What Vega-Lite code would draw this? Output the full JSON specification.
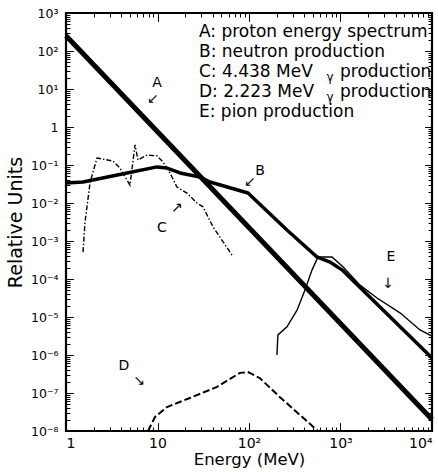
{
  "$schema": "https://vega.github.io/schema/vega-lite/v6.json",
  "width": 366,
  "height": 418,
  "autosize": {"type": "none"},
  "padding": {"left": 66, "top": 13, "right": 6, "bottom": 41},
  "background": "white",
  "config": {"view": {"stroke": "black", "strokeWidth": 2.2}, "font": "DejaVu Sans"},
  "data": {"values": [
      {"s": "A", "e": 1, "v": 251},
      {"s": "A", "e": 10000, "v": 2.0e-8},
      {"s": "B", "e": 1, "v": 0.0336},
      {"s": "B", "e": 1.535, "v": 0.0357},
      {"s": "B", "e": 4.65, "v": 0.0617},
      {"s": "B", "e": 9.89, "v": 0.0891},
      {"s": "B", "e": 12.7, "v": 0.0832},
      {"s": "B", "e": 17.6, "v": 0.0617},
      {"s": "B", "e": 29.1, "v": 0.0483},
      {"s": "B", "e": 37.5, "v": 0.0357},
      {"s": "B", "e": 97.5, "v": 0.0183},
      {"s": "B", "e": 260, "v": 0.00195},
      {"s": "B", "e": 553, "v": 0.00038},
      {"s": "B", "e": 767, "v": 0.00028},
      {"s": "B", "e": 1038, "v": 0.000174},
      {"s": "B", "e": 10000, "v": 8.3e-7},
      {"s": "C", "e": 1.535, "v": 0.00051},
      {"s": "C", "e": 1.61, "v": 0.00295},
      {"s": "C", "e": 1.83, "v": 0.0339},
      {"s": "C", "e": 2.18, "v": 0.153},
      {"s": "C", "e": 3.27, "v": 0.127},
      {"s": "C", "e": 3.89, "v": 0.0832},
      {"s": "C", "e": 5.0, "v": 0.0295},
      {"s": "C", "e": 5.68, "v": 0.339},
      {"s": "C", "e": 6.12, "v": 0.135},
      {"s": "C", "e": 7.67, "v": 0.182},
      {"s": "C", "e": 9.89, "v": 0.174},
      {"s": "C", "e": 11.5, "v": 0.12},
      {"s": "C", "e": 13.7, "v": 0.0617},
      {"s": "C", "e": 16.3, "v": 0.0263},
      {"s": "C", "e": 21.0, "v": 0.0182},
      {"s": "C", "e": 27.0, "v": 0.01},
      {"s": "C", "e": 31.4, "v": 0.00794},
      {"s": "C", "e": 40.5, "v": 0.00234},
      {"s": "C", "e": 65.2, "v": 0.000427},
      {"s": "D", "e": 7.87, "v": 1.0e-8},
      {"s": "D", "e": 9.4, "v": 2.34e-8},
      {"s": "D", "e": 12.7, "v": 4.27e-8},
      {"s": "D", "e": 22.6, "v": 7.41e-8},
      {"s": "D", "e": 44.7, "v": 1.45e-7},
      {"s": "D", "e": 79.8, "v": 3.39e-7},
      {"s": "D", "e": 97.5, "v": 3.55e-7},
      {"s": "D", "e": 132, "v": 2.45e-7},
      {"s": "D", "e": 218, "v": 7.76e-8},
      {"s": "D", "e": 361, "v": 2.63e-8},
      {"s": "D", "e": 568, "v": 1.0e-8},
      {"s": "E", "e": 202, "v": 1.0e-6},
      {"s": "E", "e": 207, "v": 3.39e-6},
      {"s": "E", "e": 260, "v": 5.5e-6},
      {"s": "E", "e": 335, "v": 1.51e-5},
      {"s": "E", "e": 409, "v": 5.13e-5},
      {"s": "E", "e": 489, "v": 0.000174},
      {"s": "E", "e": 568, "v": 0.00038},
      {"s": "E", "e": 807, "v": 0.00038},
      {"s": "E", "e": 1064, "v": 0.000209},
      {"s": "E", "e": 1633, "v": 6.9e-5},
      {"s": "E", "e": 2506, "v": 3.16e-5},
      {"s": "E", "e": 4467, "v": 1.29e-5},
      {"s": "E", "e": 7396, "v": 4.57e-6},
      {"s": "E", "e": 10000, "v": 3.16e-6}
  ]},
  "layer": [
    {
      "transform": [{"filter": "datum.s == 'A'"}],
      "mark": {"type": "line", "color": "black", "strokeWidth": 5, "strokeCap": "butt"},
      "encoding": {
        "x": {"field": "e", "type": "quantitative", "scale": {"type": "log", "domain": [1, 10000], "nice": false},
          "axis": {"orient": "bottom", "title": "Energy (MeV)", "titleFontSize": 16.5, "titleFontWeight": "normal", "titleColor": "black", "titlePadding": 1,
            "values": [1, 10, 100, 1000, 10000], "offset": -8,
            "labelExpr": "['1','10','10²','10³','10⁴'][round(log(datum.value)/LN10)]",
            "labelFontSize": 14, "labelColor": "black", "labelPadding": 5,
            "tickSize": 8, "tickColor": "black", "tickWidth": 1, "domain": false, "grid": false}},
        "y": {"field": "v", "type": "quantitative", "scale": {"type": "log", "domain": [1e-8, 1000], "nice": false},
          "axis": {"orient": "left", "title": "Relative Units", "titleFontSize": 19, "titleFontWeight": "normal", "titleColor": "black", "titlePadding": 5,
            "values": [1e-8, 1e-7, 1e-6, 1e-5, 1e-4, 0.001, 0.01, 0.1, 1, 10, 100, 1000], "offset": -7,
            "labelExpr": "['10⁻⁸','10⁻⁷','10⁻⁶','10⁻⁵','10⁻⁴','10⁻³','10⁻²','10⁻¹','1','10¹','10²','10³'][round(log(datum.value)/LN10)+8]",
            "labelFontSize": 12.5, "labelColor": "black", "labelPadding": 8,
            "tickSize": 7, "tickColor": "black", "tickWidth": 1, "domain": false, "grid": false}}
      }
    },
    {
      "transform": [{"filter": "datum.s == 'B'"}],
      "mark": {"type": "line", "color": "black", "strokeWidth": 3.5, "strokeJoin": "round"},
      "encoding": {
        "x": {"field": "e", "type": "quantitative", "scale": {"type": "log", "domain": [1, 10000], "nice": false},
          "axis": {"orient": "top", "title": null, "labels": false, "values": [1, 10, 100, 1000, 10000], "offset": -8,
            "tickSize": 8, "tickColor": "black", "tickWidth": 1, "domain": false, "grid": false}},
        "y": {"field": "v", "type": "quantitative", "scale": {"type": "log", "domain": [1e-8, 1000], "nice": false},
          "axis": {"orient": "right", "title": null, "labels": false, "values": [1e-8, 1e-7, 1e-6, 1e-5, 1e-4, 0.001, 0.01, 0.1, 1, 10, 100, 1000], "offset": -7,
            "tickSize": 7, "tickColor": "black", "tickWidth": 1, "domain": false, "grid": false}}
      }
    },
    {
      "transform": [{"filter": "datum.s == 'C'"}],
      "mark": {"type": "line", "color": "black", "strokeWidth": 1.4, "strokeDash": [5, 2, 1.5, 2]},
      "encoding": {
        "x": {"field": "e", "type": "quantitative", "scale": {"type": "log", "domain": [1, 10000], "nice": false},
          "axis": {"orient": "bottom", "title": null, "labels": false, "offset": -4,
            "values": [2,3,4,5,6,7,8,9,20,30,40,50,60,70,80,90,200,300,400,500,600,700,800,900,2000,3000,4000,5000,6000,7000,8000,9000],
            "tickSize": 4, "tickColor": "black", "tickWidth": 1, "domain": false, "grid": false}},
        "y": {"field": "v", "type": "quantitative", "scale": {"type": "log", "domain": [1e-8, 1000], "nice": false},
          "axis": {"orient": "left", "title": null, "labels": false, "offset": -4,
            "values": [2e-8,3e-8,4e-8,5e-8,6e-8,7e-8,8e-8,9e-8,2e-7,3e-7,4e-7,5e-7,6e-7,7e-7,8e-7,9e-7,2e-6,3e-6,4e-6,5e-6,6e-6,7e-6,8e-6,9e-6,2e-5,3e-5,4e-5,5e-5,6e-5,7e-5,8e-5,9e-5,2e-4,3e-4,4e-4,5e-4,6e-4,7e-4,8e-4,9e-4,0.002,0.003,0.004,0.005,0.006,0.007,0.008,0.009,0.02,0.03,0.04,0.05,0.06,0.07,0.08,0.09,0.2,0.3,0.4,0.5,0.6,0.7,0.8,0.9,2,3,4,5,6,7,8,9,20,30,40,50,60,70,80,90,200,300,400,500,600,700,800,900],
            "tickSize": 4, "tickColor": "black", "tickWidth": 1, "domain": false, "grid": false}}
      }
    },
    {
      "transform": [{"filter": "datum.s == 'D'"}],
      "mark": {"type": "line", "color": "black", "strokeWidth": 2, "strokeDash": [7, 3]},
      "encoding": {
        "x": {"field": "e", "type": "quantitative", "scale": {"type": "log", "domain": [1, 10000], "nice": false},
          "axis": {"orient": "top", "title": null, "labels": false, "offset": -4,
            "values": [2,3,4,5,6,7,8,9,20,30,40,50,60,70,80,90,200,300,400,500,600,700,800,900,2000,3000,4000,5000,6000,7000,8000,9000],
            "tickSize": 4, "tickColor": "black", "tickWidth": 1, "domain": false, "grid": false}},
        "y": {"field": "v", "type": "quantitative", "scale": {"type": "log", "domain": [1e-8, 1000], "nice": false},
          "axis": {"orient": "right", "title": null, "labels": false, "offset": -4,
            "values": [2e-8,3e-8,4e-8,5e-8,6e-8,7e-8,8e-8,9e-8,2e-7,3e-7,4e-7,5e-7,6e-7,7e-7,8e-7,9e-7,2e-6,3e-6,4e-6,5e-6,6e-6,7e-6,8e-6,9e-6,2e-5,3e-5,4e-5,5e-5,6e-5,7e-5,8e-5,9e-5,2e-4,3e-4,4e-4,5e-4,6e-4,7e-4,8e-4,9e-4,0.002,0.003,0.004,0.005,0.006,0.007,0.008,0.009,0.02,0.03,0.04,0.05,0.06,0.07,0.08,0.09,0.2,0.3,0.4,0.5,0.6,0.7,0.8,0.9,2,3,4,5,6,7,8,9,20,30,40,50,60,70,80,90,200,300,400,500,600,700,800,900],
            "tickSize": 4, "tickColor": "black", "tickWidth": 1, "domain": false, "grid": false}}
      }
    },
    {
      "transform": [{"filter": "datum.s == 'E'"}],
      "mark": {"type": "line", "color": "black", "strokeWidth": 1.4},
      "encoding": {
        "x": {"field": "e", "type": "quantitative", "scale": {"type": "log", "domain": [1, 10000], "nice": false},
          "axis": {"orient": "bottom", "title": null, "labels": false, "values": [1, 10, 100, 1000, 10000], "offset": -8,
            "tickSize": 8, "tickColor": "black", "tickWidth": 1, "domain": false, "grid": false}},
        "y": {"field": "v", "type": "quantitative", "scale": {"type": "log", "domain": [1e-8, 1000], "nice": false},
          "axis": {"orient": "left", "title": null, "labels": false, "values": [1e-8, 1e-7, 1e-6, 1e-5, 1e-4, 0.001, 0.01, 0.1, 1, 10, 100, 1000], "offset": -7,
            "tickSize": 7, "tickColor": "black", "tickWidth": 1, "domain": false, "grid": false}}
      }
    },
    {
      "data": {"values": [
        {"t": "A", "e": 9.9, "v": 14.4},
        {"t": "↙", "e": 8.9, "v": 5.6},
        {"t": "B", "e": 132, "v": 0.0695},
        {"t": "↙", "e": 102, "v": 0.0357},
        {"t": "C", "e": 11.2, "v": 0.0022},
        {"t": "↗", "e": 16.3, "v": 0.0074},
        {"t": "D", "e": 4.3, "v": 5.1e-7},
        {"t": "↘", "e": 6.28, "v": 2.1e-7},
        {"t": "E", "e": 3565, "v": 0.00038},
        {"t": "↓", "e": 3304, "v": 7.4e-5}
      ]},
      "mark": {"type": "text", "color": "black", "fontSize": 14, "align": "center", "baseline": "middle"},
      "encoding": {
        "x": {"field": "e", "type": "quantitative", "scale": {"type": "log", "domain": [1, 10000], "nice": false},
          "axis": {"orient": "top", "title": null, "labels": false, "values": [1, 10, 100, 1000, 10000], "offset": -8,
            "tickSize": 8, "tickColor": "black", "tickWidth": 1, "domain": false, "grid": false}},
        "y": {"field": "v", "type": "quantitative", "scale": {"type": "log", "domain": [1e-8, 1000], "nice": false},
          "axis": {"orient": "right", "title": null, "labels": false, "values": [1e-8, 1e-7, 1e-6, 1e-5, 1e-4, 0.001, 0.01, 0.1, 1, 10, 100, 1000], "offset": -7,
            "tickSize": 7, "tickColor": "black", "tickWidth": 1, "domain": false, "grid": false}},
        "text": {"field": "t"}
      }
    },
    {
      "data": {"values": [
        {"t": "A: proton energy spectrum", "e": 28.4, "v": 316},
        {"t": "B: neutron production", "e": 28.4, "v": 94.2},
        {"t": "C: 4.438 MeV", "e": 28.4, "v": 28.0},
        {"t": "production", "e": 988, "v": 28.0},
        {"t": "D: 2.223 MeV", "e": 28.4, "v": 8.33},
        {"t": "production", "e": 988, "v": 8.33},
        {"t": "E: pion production", "e": 28.4, "v": 2.48}
      ]},
      "mark": {"type": "text", "color": "black", "fontSize": 17, "align": "left", "baseline": "middle"},
      "encoding": {
        "x": {"field": "e", "type": "quantitative", "scale": {"type": "log", "domain": [1, 10000], "nice": false},
          "axis": {"orient": "bottom", "title": null, "labels": false, "values": [1, 10, 100, 1000, 10000], "offset": -8,
            "tickSize": 8, "tickColor": "black", "tickWidth": 1, "domain": false, "grid": false}},
        "y": {"field": "v", "type": "quantitative", "scale": {"type": "log", "domain": [1e-8, 1000], "nice": false},
          "axis": {"orient": "left", "title": null, "labels": false, "values": [1e-8, 1e-7, 1e-6, 1e-5, 1e-4, 0.001, 0.01, 0.1, 1, 10, 100, 1000], "offset": -7,
            "tickSize": 7, "tickColor": "black", "tickWidth": 1, "domain": false, "grid": false}},
        "text": {"field": "t"}
      }
    },
    {
      "data": {"values": [
        {"t": "γ", "e": 767, "v": 21},
        {"t": "γ", "e": 767, "v": 6.2}
      ]},
      "mark": {"type": "text", "color": "black", "fontSize": 12, "align": "center", "baseline": "middle"},
      "encoding": {
        "x": {"field": "e", "type": "quantitative", "scale": {"type": "log", "domain": [1, 10000], "nice": false},
          "axis": {"orient": "top", "title": null, "labels": false, "values": [1, 10, 100, 1000, 10000], "offset": -8,
            "tickSize": 8, "tickColor": "black", "tickWidth": 1, "domain": false, "grid": false}},
        "y": {"field": "v", "type": "quantitative", "scale": {"type": "log", "domain": [1e-8, 1000], "nice": false},
          "axis": {"orient": "right", "title": null, "labels": false, "values": [1e-8, 1e-7, 1e-6, 1e-5, 1e-4, 0.001, 0.01, 0.1, 1, 10, 100, 1000], "offset": -7,
            "tickSize": 7, "tickColor": "black", "tickWidth": 1, "domain": false, "grid": false}},
        "text": {"field": "t"}
      }
    }
  ],
  "resolve": {"axis": {"x": "independent", "y": "independent"}}
}
